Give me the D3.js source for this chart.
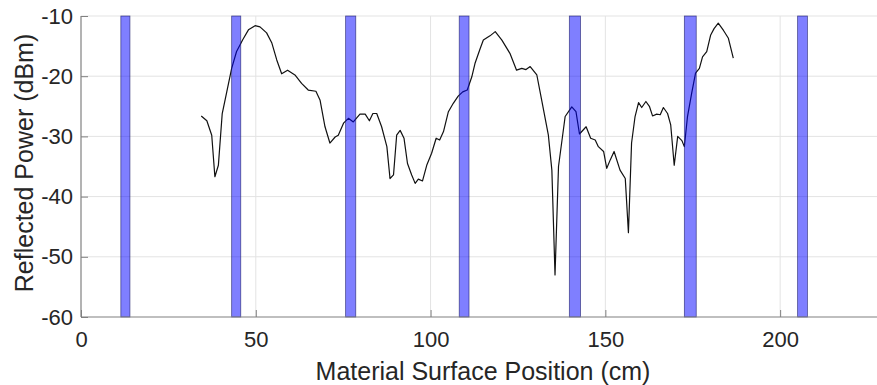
<!DOCTYPE html>
<html>
<head>
<meta charset="utf-8">
<script src="https://cdn.jsdelivr.net/npm/d3@7"></script>
<style>
  body { margin: 0; background: #fff; }
  svg { display: block; font-family: "Liberation Sans", Arial, sans-serif; }
</style>
</head>
<body>
<div id="chart"></div>
<script>
// measured reflected power along the surface (cm, dBm)
const positions = [34.4, 36.0, 37.4, 38.3, 39.3, 40.4, 41.7, 43.1, 44.5, 46.3, 47.9, 49.8, 51.2, 53.1, 54.6, 56.0, 57.4, 59.1, 61.2, 63.1, 65.0, 67.2, 68.4, 69.8, 71.2, 72.7, 73.6, 75.1, 76.5, 77.9, 79.8, 81.3, 82.5, 83.5, 84.6, 86.0, 87.5, 88.4, 89.4, 90.3, 91.3, 92.4, 93.4, 94.6, 95.6, 96.5, 97.7, 98.9, 100.3, 101.6, 102.6, 103.7, 105.1, 106.5, 107.9, 109.2, 110.5, 111.8, 112.7, 114.2, 115.1, 117.0, 118.5, 120.4, 122.7, 124.6, 126.1, 127.3, 128.5, 130.4, 131.8, 133.7, 134.7, 135.6, 136.6, 138.5, 140.4, 141.6, 142.6, 144.5, 145.8, 147.1, 148.0, 149.5, 150.4, 151.4, 152.5, 154.2, 155.7, 156.6, 157.5, 158.5, 159.5, 160.4, 161.6, 162.6, 163.5, 164.7, 165.7, 166.6, 167.8, 168.7, 169.7, 170.7, 171.9, 172.6, 173.5, 174.7, 175.8, 176.9, 177.8, 179.0, 180.1, 181.1, 182.3, 183.8, 185.2, 186.6];
const power = [-26.6, -27.4, -29.8, -36.7, -34.8, -26.2, -22.6, -18.7, -15.9, -13.9, -12.3, -11.6, -11.8, -12.8, -14.5, -17.3, -19.6, -19.0, -19.8, -21.2, -22.3, -22.5, -24.0, -28.4, -31.1, -30.1, -29.8, -27.8, -27.0, -27.6, -26.3, -26.3, -27.4, -26.2, -26.2, -28.4, -31.7, -37.0, -36.4, -29.8, -29.0, -30.3, -34.5, -36.4, -37.8, -37.1, -37.4, -34.8, -32.8, -30.3, -30.6, -29.2, -25.9, -24.5, -23.3, -22.6, -22.3, -20.1, -17.9, -15.4, -14.0, -13.3, -12.6, -14.0, -16.2, -19.0, -18.7, -18.9, -18.4, -19.8, -24.0, -29.8, -35.6, -53.0, -35.0, -26.7, -25.1, -25.9, -29.6, -28.4, -30.3, -30.6, -31.7, -32.5, -35.3, -33.9, -32.5, -35.6, -37.0, -46.0, -31.1, -26.7, -24.4, -25.2, -24.2, -25.0, -26.6, -26.3, -26.4, -25.2, -26.2, -28.1, -34.8, -30.0, -30.7, -31.7, -26.7, -22.8, -19.5, -18.7, -16.8, -15.9, -13.2, -12.1, -11.2, -12.4, -13.7, -17.0];

// marked regions (cm)
const bandStart = [11.4, 43.1, 75.7, 108.2, 139.7, 172.6, 205.0];
const bandEnd = [14.0, 45.7, 78.6, 111.0, 142.9, 176.0, 207.8];

const xTicks = [0, 50, 100, 150, 200];
const yTicks = [-60, -50, -40, -30, -20, -10];

const width = 877;
const height = 385;
const margin = { top: 16, left: 81, bottom: 68 };

const x = d3.scaleLinear().domain([0, 230]).range([margin.left, 885]);
const y = d3.scaleLinear().domain([-60, -10]).range([height - margin.bottom, margin.top]);

const svg = d3.select("#chart").append("svg")
    .attr("width", width)
    .attr("height", height);

// grid
svg.append("g")
    .selectAll("line.gx")
    .data(xTicks.slice(1))
    .join("line")
    .attr("x1", d => x(d)).attr("x2", d => x(d))
    .attr("y1", y(-60)).attr("y2", y(-10))
    .attr("stroke", "#e3e3e3").attr("stroke-width", 1);

svg.append("g")
    .selectAll("line.gy")
    .data(yTicks.slice(1))
    .join("line")
    .attr("x1", x(0)).attr("x2", width)
    .attr("y1", d => y(d)).attr("y2", d => y(d))
    .attr("stroke", "#e3e3e3").attr("stroke-width", 1);

// data line
const data = positions.map((p, i) => ({ x: p, y: power[i] }));
svg.append("path")
    .datum(data)
    .attr("fill", "none")
    .attr("stroke", "#111")
    .attr("stroke-width", 1.2)
    .attr("stroke-linejoin", "round")
    .attr("d", d3.line().x(d => x(d.x)).y(d => y(d.y)));

// bands drawn on top, half transparent
svg.append("g")
    .selectAll("rect")
    .data(bandStart)
    .join("rect")
    .attr("x", d => x(d))
    .attr("width", (d, i) => x(bandEnd[i]) - x(d))
    .attr("y", y(-10))
    .attr("height", y(-60) - y(-10))
    .attr("fill", "#0000ff")
    .attr("fill-opacity", 0.5)
    .attr("stroke", "#1a1a66")
    .attr("stroke-opacity", 0.7)
    .attr("stroke-width", 0.8);

// axes (matlab style, ticks inward, plain hyphen minus)
const fmt = d => String(d);

const xAxis = svg.append("g")
    .attr("transform", `translate(0,${y(-60)})`)
    .call(d3.axisBottom(x).tickValues(xTicks).tickFormat(fmt).tickSize(-7).tickPadding(14));
xAxis.select(".domain").attr("d", `M${x(0)},0H${width}`);

const yAxis = svg.append("g")
    .attr("transform", `translate(${x(0)},0)`)
    .call(d3.axisLeft(y).tickValues(yTicks).tickFormat(fmt).tickSize(-7).tickPadding(8));
yAxis.select(".domain").attr("d", `M0,${y(-60)}V${y(-10)}`);

svg.selectAll(".domain").attr("stroke", "#808080").attr("stroke-width", 1.2);
svg.selectAll(".tick line").attr("stroke", "#808080");
svg.selectAll(".tick text")
    .attr("font-family", "Liberation Sans, Arial, sans-serif")
    .attr("font-size", 22)
    .attr("fill", "#262626");

// axis titles
svg.append("text")
    .attr("x", (x(0) + x(230)) / 2)
    .attr("y", 380)
    .attr("text-anchor", "middle")
    .attr("font-size", 25)
    .attr("fill", "#262626")
    .text("Material Surface Position (cm)");

svg.append("text")
    .attr("transform", `translate(33,163) rotate(-90)`)
    .attr("text-anchor", "middle")
    .attr("font-size", 25)
    .attr("fill", "#262626")
    .text("Reflected Power (dBm)");
</script>
</body>
</html>
